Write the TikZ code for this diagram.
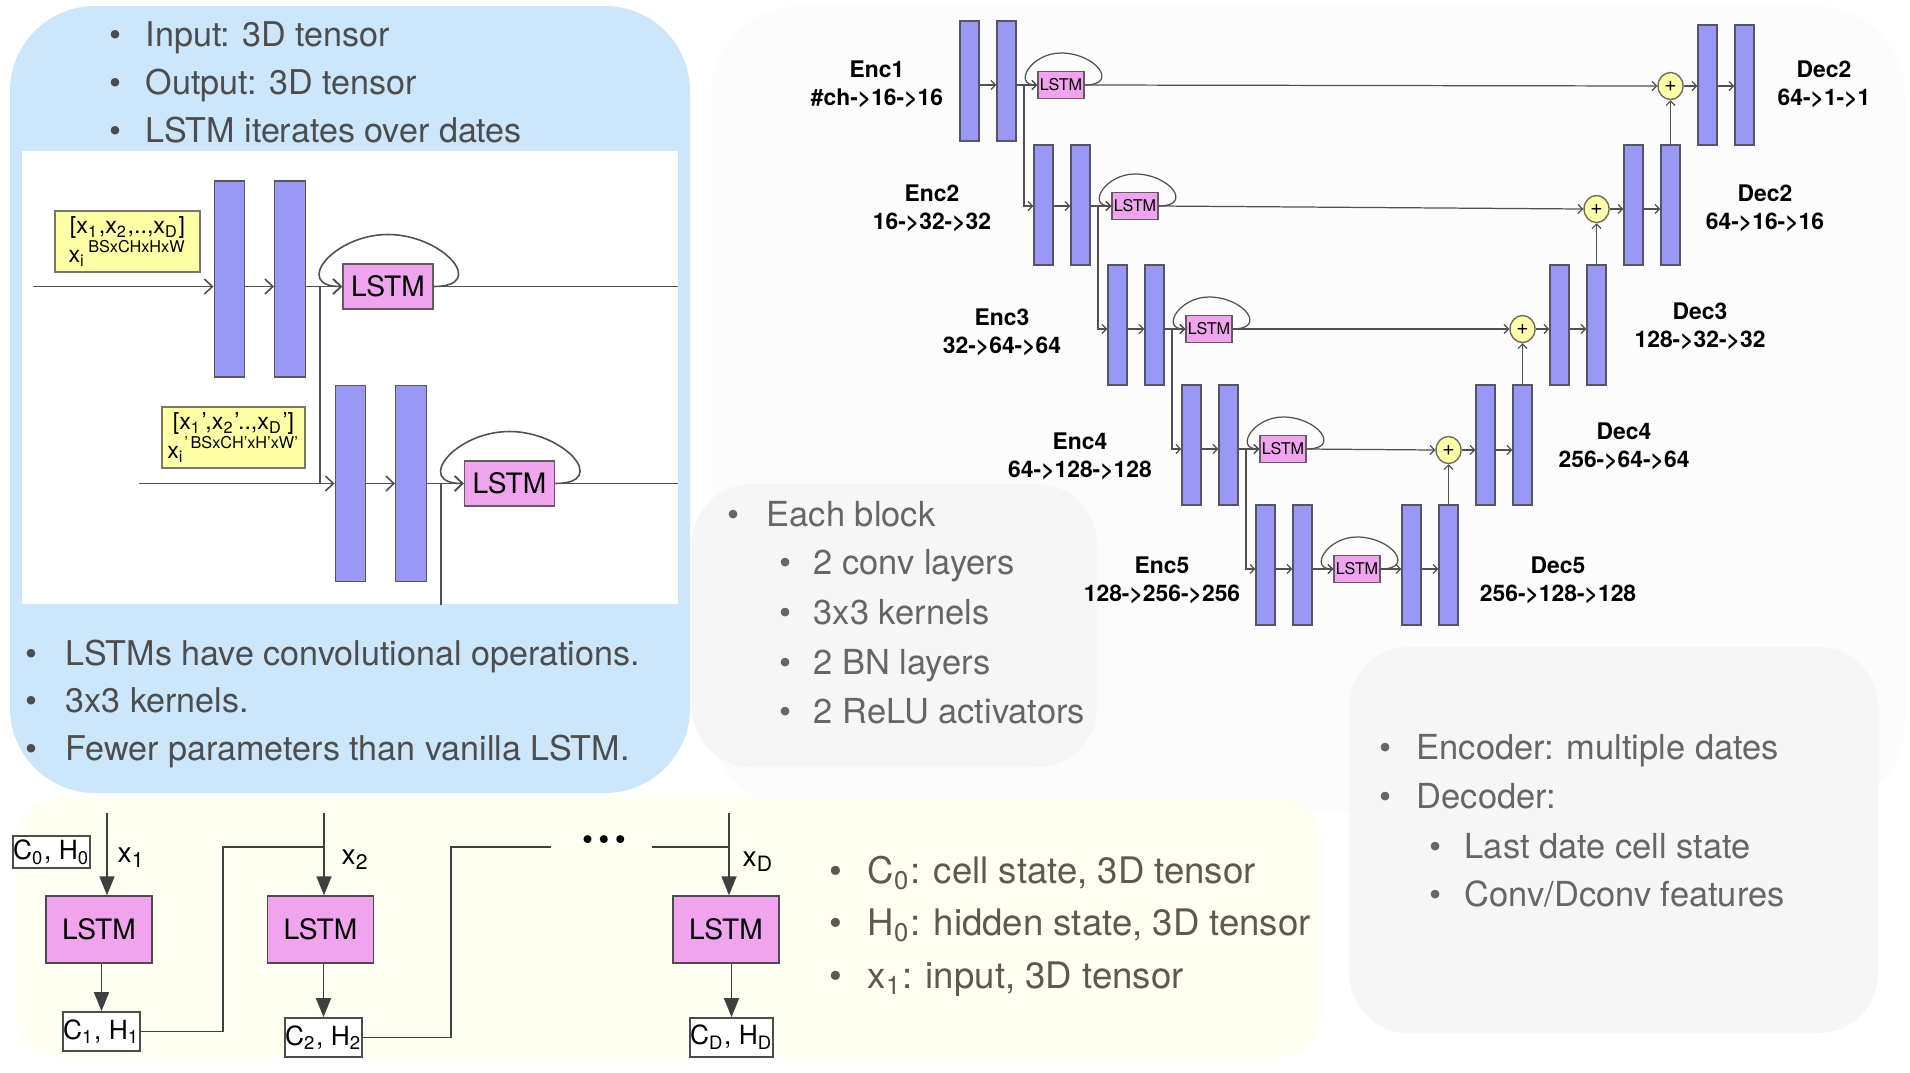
\documentclass[tikz,border=0pt]{standalone}
\usepackage{fontspec}
\setmainfont{TeX Gyre Heros}
\usetikzlibrary{arrows.meta,calc,shapes.geometric}
\definecolor{bluepanel}{RGB}{204,230,251}
\definecolor{barfill}{RGB}{153,153,245}
\definecolor{bardraw}{RGB}{85,85,105}
\definecolor{lstmfill}{RGB}{240,164,238}
\definecolor{lstmdraw}{RGB}{100,90,100}
\definecolor{yelbox}{RGB}{255,255,166}
\definecolor{ydraw}{RGB}{120,120,100}
\definecolor{pluscol}{RGB}{255,255,170}
\definecolor{plusdraw}{RGB}{110,110,90}
\definecolor{ivory}{RGB}{254,254,241}
\definecolor{panelgray}{RGB}{246,246,246}
\definecolor{faintgray}{RGB}{252,252,252}
\definecolor{txtdark}{RGB}{77,77,77}
\definecolor{txtgray}{RGB}{102,102,102}
\definecolor{txtolive}{RGB}{90,90,78}
\definecolor{linecol}{RGB}{80,80,80}
\newcommand{\bpt}[1]{\makebox[#1][l]{\textbullet}}
\tikzset{
  uline/.style={draw=linecol, line width=0.35pt},
  iline/.style={draw=linecol, line width=0.45pt},
  cline/.style={draw=black!75, line width=0.5pt},
  ua/.style={-{Straight Barb[length=0.045cm,width=0.09cm]}},
  ia/.style={-{Straight Barb[length=0.08cm,width=0.15cm]}},
  carr/.style={-{Triangle[length=0.19cm,width=0.15cm]}},
  ubar/.style={rectangle, draw=bardraw, fill=barfill, line width=0.4pt, minimum width=0.19cm, minimum height=1.2cm, inner sep=0pt},
  ibar/.style={ubar, minimum width=0.305cm, minimum height=1.96cm},
  ulstm/.style={rectangle, draw=lstmdraw, fill=lstmfill, line width=0.4pt, minimum width=0.46cm, minimum height=0.27cm, inner sep=0pt, font=\fontsize{4.6}{5}\selectfont},
  ilstm/.style={ulstm, minimum width=0.9cm, minimum height=0.45cm, font=\fontsize{8}{9}\selectfont},
  clstm/.style={ulstm, draw=black!70, minimum width=1.06cm, minimum height=0.67cm, font=\fontsize{8}{9}\selectfont},
  uplus/.style={ellipse, draw=plusdraw, fill=pluscol, line width=0.4pt, minimum width=0.25cm, minimum height=0.27cm, inner sep=0pt, font=\fontsize{6}{6}\selectfont},
  ybox/.style={rectangle, draw=ydraw, fill=yelbox, line width=0.4pt, minimum width=1.45cm, minimum height=0.61cm, inner sep=0pt, align=center, font=\fontsize{6.6}{8.2}\selectfont},
  cbox/.style={rectangle, draw=black!70, fill=white, line width=0.5pt, minimum width=0.77cm, minimum height=0.39cm, inner sep=0pt, font=\fontsize{7.5}{8}\selectfont},
  ulab/.style={align=center, inner sep=0pt, font=\fontsize{6.5}{8}\selectfont\bfseries},
  btxt/.style={anchor=mid west, inner sep=0pt, text=txtdark, font=\fontsize{9.7}{11}\selectfont},
  gtxt/.style={btxt, text=txtgray, font=\fontsize{9.8}{11}\selectfont},
  ytxt/.style={btxt, text=txtolive, font=\fontsize{10.4}{12}\selectfont},
  xlab/.style={anchor=mid west, inner sep=0pt, font=\fontsize{8}{9}\selectfont},
}
\begin{document}
\begin{tikzpicture}[x=0.01cm,y=-0.01cm]
\useasboundingbox (0,0) rectangle (1910,1072);
\fill[white] (0,0) rectangle (1910,1072);

% ---------------- panels
\fill[faintgray, rounded corners=0.9cm] (711,6) rectangle (1905,812);
\fill[bluepanel, rounded corners=0.85cm] (10,6) rectangle (690,793);
\fill[white] (22,151) rectangle (678,604);
\fill[panelgray, rounded corners=0.6cm] (692,484) rectangle (1097,767);
\fill[panelgray, rounded corners=0.6cm] (1349,647) rectangle (1878,1033);
\fill[ivory, rounded corners=0.45cm] (15,798) rectangle (1322,1057);

% ---------------- blue panel texts
\node[btxt] (t1) at (109,37) {\bpt{0.36cm}Input: 3D tensor};
\node[btxt] (t2) at (109,85) {\bpt{0.36cm}Output: 3D tensor};
\node[btxt] (t3) at (109,133) {\bpt{0.36cm}LSTM iterates over dates};
\node[btxt] (t4) at (25,656) {\bpt{0.40cm}LSTMs have convolutional operations.};
\node[btxt] (t5) at (25,703) {\bpt{0.40cm}3x3 kernels.};
\node[btxt] (t6) at (25,751) {\bpt{0.40cm}Fewer parameters than vanilla LSTM.};

% ---------------- gray panels texts
\node[gtxt] (g1) at (727,517) {\bpt{0.39cm}Each block};
\node[gtxt] (g2) at (779,565) {\bpt{0.34cm}2 conv layers};
\node[gtxt] (g3) at (779,615) {\bpt{0.34cm}3x3 kernels};
\node[gtxt] (g4) at (779,665) {\bpt{0.34cm}2 BN layers};
\node[gtxt] (g5) at (779,714) {\bpt{0.34cm}2 ReLU activators};
\node[gtxt] (h1) at (1379,750) {\bpt{0.37cm}Encoder: multiple dates};
\node[gtxt] (h2) at (1379,799) {\bpt{0.37cm}Decoder:};
\node[gtxt] (h3) at (1429,849) {\bpt{0.35cm}Last date cell state};
\node[gtxt] (h4) at (1429,897) {\bpt{0.35cm}Conv/Dconv features};

% ---------------- yellow panel texts
\node[ytxt] (y1) at (829,874) {\bpt{0.38cm}C\textsubscript{0}: cell state, 3D tensor};
\node[ytxt] (y2) at (829,926) {\bpt{0.38cm}H\textsubscript{0}: hidden state, 3D tensor};
\node[ytxt] (y3) at (829,979) {\bpt{0.38cm}x\textsubscript{1}: input, 3D tensor};

% ---------------- inner white box diagram
\node[ibar] (iB1) at (229.5,279) {};
\node[ibar] (iB2) at (290,279) {};
\node[ibar] (iB3) at (350.5,483.5) {};
\node[ibar] (iB4) at (411,483.5) {};
\node[ilstm] (iL1) at (388,286.5) {LSTM};
\node[ilstm] (iL2) at (509.5,483.5) {LSTM};
\node[ybox] (iY1) at (127.5,241.5) {[x\textsubscript{1},x\textsubscript{2},..,x\textsubscript{D}]\\x\textsubscript{i}\textsuperscript{\,BSxCHxHxW}};
\node[ybox, minimum width=1.43cm] (iY2) at (233.5,437.5) {[x\textsubscript{1}',x\textsubscript{2}'..,x\textsubscript{D}']\\x\textsubscript{i}\textsuperscript{'\,BSxCH'xH'xW'}};
\coordinate (in1) at (33,286.5);
\coordinate (iout1) at (678,286.5);
\coordinate (ij1) at (320,286.5);
\coordinate (in2) at (139,483.5);
\coordinate (iout2) at (678,483.5);
\coordinate (ij2) at (441,483.5);
\coordinate (ibot) at (441,605);
\draw[iline,ia] (in1) -- (iB1.west |- in1);
\draw[iline,ia] (iB1.east |- in1) -- (iB2.west |- in1);
\draw[iline,ia] (iB2.east |- in1) -- (iL1.west);
\draw[iline] (iL1.east) -- (iout1);
\draw[iline,ia] (iL1.east) .. controls +(55,0) and +(55,0) .. ($(iL1.center)+(0,-52)$) .. controls +(-55,0) and +(-50,0) .. (iL1.west);
\draw[iline] (ij1) -- (ij1 |- in2);
\draw[iline,ia] (in2) -- (iB3.west |- in2);
\draw[iline,ia] (iB3.east |- in2) -- (iB4.west |- in2);
\draw[iline,ia] (iB4.east |- in2) -- (iL2.west);
\draw[iline] (iL2.east) -- (iout2);
\draw[iline,ia] (iL2.east) .. controls +(55,0) and +(55,0) .. ($(iL2.center)+(0,-52)$) .. controls +(-55,0) and +(-50,0) .. (iL2.west);
\draw[iline] (ij2) -- (ibot);

% ---------------- U-net
\foreach \l/\cy/\ry in {1/81/85, 2/205/206, 3/325/329, 4/445/449, 5/565/569} {
  \node[ubar] (eA\l) at ({960+74*(\l-1)+9.5},\cy) {};
  \node[ubar] (eB\l) at ({960+74*(\l-1)+46.5},\cy) {};
  \coordinate (er\l) at (0,\ry);
  \coordinate (j\l) at ({960+74*(\l-1)+64},\ry);
  \node[ulstm] (L\l) at ({1061+74*(\l-1)},\ry) {LSTM};
}
\foreach \l/\cy/\ry in {1/85/86, 2/205/209, 3/325/329, 4/445/450, 5/565/569} {
  \node[ubar] (dA\l) at ({1402+74*(5-\l)+9.5},\cy) {};
  \node[ubar] (dB\l) at ({1402+74*(5-\l)+46.5},\cy) {};
  \coordinate (dr\l) at (0,\ry);
}
\foreach \l/\ry in {1/86, 2/209, 3/329, 4/450} {
  \node[uplus] (P\l) at ({1402+74*(5-\l)-27.5},\ry) {+};
}
\foreach \l in {1,...,5} {
  \draw[uline,ua] (eA\l.east |- er\l) -- (eB\l.west |- er\l);
  \draw[uline,ua] (eB\l.east |- er\l) -- (L\l.west);
  \draw[uline,ua] (L\l.east) .. controls +(35,0) and +(35,0) .. ($(L\l.center)+(0,-32)$) .. controls +(-30,0) and +(-25,0) .. (L\l.west);
  \draw[uline,ua] (dA\l.east |- dr\l) -- (dB\l.west |- dr\l);
}
\foreach \l/\m in {1/2, 2/3, 3/4, 4/5} {
  \draw[uline,ua] (j\l) |- (eA\m.west |- er\m);
  \draw[uline,ua] (L\l.east) -- (P\l.west);
  \draw[uline,ua] (P\l.east) -- (dA\l.west |- dr\l);
  \draw[uline,ua] (dB\m.north) -- (P\l.south);
}
\draw[uline,ua] (L5.east) -- (dA5.west |- dr5);

\node[ulab] (lE1) at (877,84) {Enc1\\\#ch->16->16};
\node[ulab] (lE2) at (932,208) {Enc2\\16->32->32};
\node[ulab] (lE3) at (1002,332) {Enc3\\32->64->64};
\node[ulab] (lE4) at (1080,456) {Enc4\\64->128->128};
\node[ulab] (lE5) at (1162,580) {Enc5\\128->256->256};
\node[ulab] (lD1) at (1824,84) {Dec2\\64->1->1};
\node[ulab] (lD2) at (1765,208) {Dec2\\64->16->16};
\node[ulab] (lD3) at (1700,326) {Dec3\\128->32->32};
\node[ulab] (lD4) at (1624,446) {Dec4\\256->64->64};
\node[ulab] (lD5) at (1558,580) {Dec5\\256->128->128};

% ---------------- bottom LSTM chain
\node[cbox, minimum height=0.32cm] (c0) at (51.5,852) {C\textsubscript{0}, H\textsubscript{0}};
\node[clstm] (lb1) at (99,929.5) {LSTM};
\node[cbox] (c1) at (101.5,1031.5) {C\textsubscript{1}, H\textsubscript{1}};
\node[clstm] (lb2) at (320.5,929.5) {LSTM};
\node[cbox] (c2) at (323.5,1037.5) {C\textsubscript{2}, H\textsubscript{2}};
\node[clstm] (lbD) at (726,929.5) {LSTM};
\node[cbox, minimum width=0.83cm] (cD) at (731.5,1037.5) {C\textsubscript{D}, H\textsubscript{D}};
\coordinate (xt1) at (107,813);
\coordinate (xt2) at (324,813);
\coordinate (xtD) at (729,813);
\coordinate (k1) at (223,847);
\coordinate (k2) at (451,847);
\coordinate (k2e) at (551,847);
\coordinate (k3) at (652,847);
\draw[cline,carr] (xt1) -- (xt1 |- lb1.north);
\draw[cline,carr] (xt2) -- (xt2 |- lb2.north);
\draw[cline,carr] (xtD) -- (xtD |- lbD.north);
\draw[cline,carr] (c1.north |- lb1.south) -- (c1.north);
\draw[cline,carr] (c2.north |- lb2.south) -- (c2.north);
\draw[cline,carr] (cD.north |- lbD.south) -- (cD.north);
\draw[cline] (c1.east) -| (k1) -- (k1 -| xt2);
\draw[cline] (c2.east) -| (k2) -- (k2e);
\draw[cline] (k3) -- (k3 -| xtD);
\node[inner sep=0pt, font=\fontsize{9}{9}\selectfont] (dots) at (604,843) {\textbullet\hspace{1.5pt}\textbullet\hspace{1.5pt}\textbullet};
\node[xlab] (xl1) at (117,853) {x\textsubscript{1}};
\node[xlab] (xl2) at (341,855) {x\textsubscript{2}};
\node[xlab] (xlD) at (742,857) {x\textsubscript{D}};
\end{tikzpicture}
\end{document}
